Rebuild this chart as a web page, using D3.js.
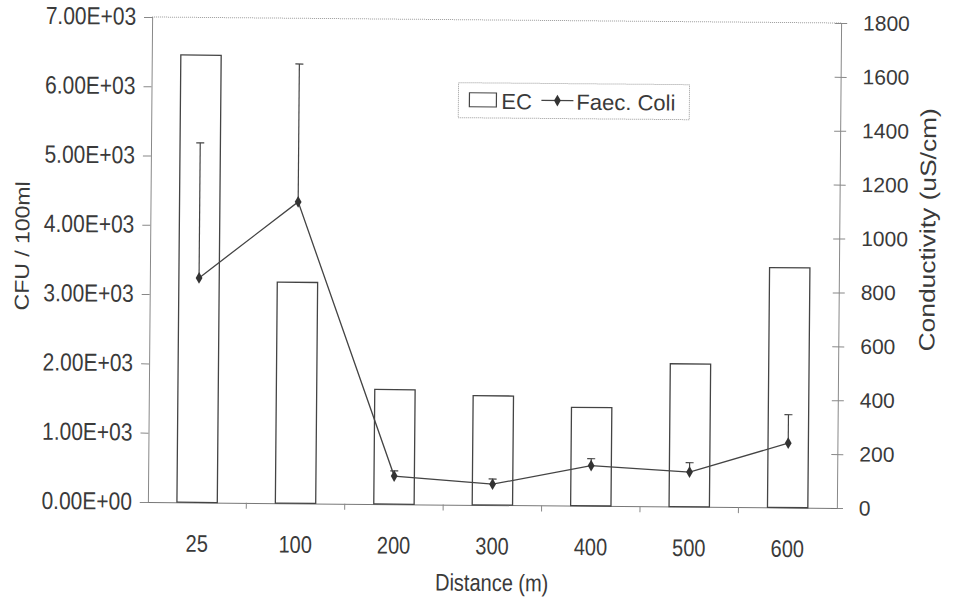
<!DOCTYPE html>
<html>
<head>
<meta charset="utf-8">
<script src="https://d3js.org/d3.v7.min.js"></script>
<style>
  body { margin: 0; background: #fff; }
  text { font-family: "Liberation Sans", Arial, sans-serif; fill: #3a3a3a; }
</style>
</head>
<body>
<div id="chart"></div>
<script>
// data
var categories = ["25", "100", "200", "300", "400", "500", "600"];
var ecValues = [1660, 820, 425, 405, 365, 530, 890];          // conductivity, right axis (bars)
var faecColi = [3240, 4350, 405, 300, 580, 500, 930];         // CFU/100ml, left axis (line)
var faecColiErr = [1950, 1990, 75, 75, 100, 135, 410];        // plus error bars
var leftTicks = [0, 1000, 2000, 3000, 4000, 5000, 6000, 7000];
var rightTicks = [0, 200, 400, 600, 800, 1000, 1200, 1400, 1600, 1800];

var W = 954, H = 605;
var margin = {top: 20, right: 115, bottom: 100, left: 150},
    width = W - margin.left - margin.right,
    height = H - margin.top - margin.bottom;

var svg = d3.select("#chart").append("svg")
    .attr("width", W)
    .attr("height", H);

// the scan is tilted by about half a degree
var root = svg.append("g")
    .attr("transform", "rotate(0.5, 496, 262)");

var g = root.append("g")
    .attr("transform", "translate(" + margin.left + "," + margin.top + ")");

var x = d3.scaleBand()
    .domain(categories)
    .range([0, width])
    .paddingInner(0.59)
    .paddingOuter(0.295);

var yLeft = d3.scaleLinear().domain([0, 7000]).range([height, 0]);
var yRight = d3.scaleLinear().domain([0, 1800]).range([height, 0]);

function sci(v) {
    var e = v === 0 ? 0 : Math.floor(Math.log10(v));
    var m = v / Math.pow(10, e);
    return m.toFixed(2) + "E+" + String(e).padStart(2, "0");
}

// dotted top border of plot area
g.append("line")
    .attr("x1", 0).attr("x2", width)
    .attr("y1", 0).attr("y2", 0)
    .attr("stroke", "#999")
    .attr("stroke-dasharray", "1,1");

// left axis
var ax = g.append("g")
    .call(d3.axisLeft(yLeft).tickValues(leftTicks).tickFormat(sci).tickSize(8).tickPadding(8));
ax.selectAll("text").style("font-size", "21px").attr("dy", "0.3em")
    .attr("transform", "scale(1,1.18)");
ax.selectAll("line").attr("stroke", "#888");
ax.select(".domain").attr("stroke", "#888");

// right axis
var ar = g.append("g")
    .attr("transform", "translate(" + width + ",0)")
    .call(d3.axisRight(yRight).tickValues(rightTicks).tickFormat(d3.format("d")).tickSize(6).tickPadding(16));
ar.selectAll("text").style("font-size", "21px");
ar.selectAll(".tick line").attr("x1", -6).attr("stroke", "#888");
ar.select(".domain").attr("stroke", "#888");

// bottom axis
var ab = g.append("g")
    .attr("transform", "translate(0," + height + ")")
    .call(d3.axisBottom(x).tickSize(0).tickPadding(27));
ab.selectAll("text").style("font-size", "20px")
    .attr("transform", "scale(1,1.2)");
ab.select(".domain").attr("stroke", "#777");

// small ticks between categories
var bounds = d3.range(categories.length + 1).map(function(i) { return i * x.step(); });
ab.selectAll(".sep")
    .data(bounds.slice(1, -1))
    .enter().append("line")
    .attr("class", "sep")
    .attr("x1", function(d) { return d; })
    .attr("x2", function(d) { return d; })
    .attr("y1", 0).attr("y2", 6)
    .attr("stroke", "#888");

// bars (EC)
g.append("g")
    .selectAll("rect")
    .data(ecValues)
    .enter().append("rect")
    .attr("x", function(d, i) { return x(categories[i]); })
    .attr("y", function(d) { return yRight(d); })
    .attr("width", x.bandwidth())
    .attr("height", function(d) { return height - yRight(d); })
    .attr("fill", "#fff")
    .attr("stroke", "#444")
    .attr("stroke-width", 1.3);

var cx = function(i) { return x(categories[i]) + x.bandwidth() / 2; };

// error bars (plus only)
var eb = g.append("g").selectAll("g")
    .data(faecColi)
    .enter().append("g");
eb.append("line")
    .attr("x1", function(d, i) { return cx(i); })
    .attr("x2", function(d, i) { return cx(i); })
    .attr("y1", function(d) { return yLeft(d); })
    .attr("y2", function(d, i) { return yLeft(d + faecColiErr[i]); })
    .attr("stroke", "#444")
    .attr("stroke-width", 1.2);
eb.append("line")
    .attr("x1", function(d, i) { return cx(i) - 4; })
    .attr("x2", function(d, i) { return cx(i) + 4; })
    .attr("y1", function(d, i) { return yLeft(d + faecColiErr[i]); })
    .attr("y2", function(d, i) { return yLeft(d + faecColiErr[i]); })
    .attr("stroke", "#444")
    .attr("stroke-width", 1.2);

// Faec. Coli line
var line = d3.line()
    .x(function(d, i) { return cx(i); })
    .y(function(d) { return yLeft(d); });
g.append("path")
    .datum(faecColi)
    .attr("d", line)
    .attr("fill", "none")
    .attr("stroke", "#444")
    .attr("stroke-width", 1.3);

var diamond = d3.symbol().type(d3.symbolDiamond).size(40);
g.append("g")
    .selectAll("path")
    .data(faecColi)
    .enter().append("path")
    .attr("d", diamond)
    .attr("transform", function(d, i) { return "translate(" + cx(i) + "," + yLeft(d) + ")"; })
    .attr("fill", "#333");

// axis titles
root.append("text")
    .attr("transform", "translate(" + (margin.left + width / 2) + ",591) scale(1,1.2)")
    .attr("text-anchor", "middle")
    .style("font-size", "20px")
    .text("Distance (m)");

root.append("text")
    .attr("transform", "translate(29,250) rotate(-90) scale(1.15,1)")
    .attr("text-anchor", "middle")
    .style("font-size", "20px")
    .text("CFU / 100ml");

root.append("text")
    .attr("transform", "translate(935,226) rotate(-90) scale(1.2,1)")
    .attr("text-anchor", "middle")
    .style("font-size", "22px")
    .text("Conductivity (uS/cm)");

// legend
var lg = root.append("g");
lg.append("rect")
    .attr("x", 457).attr("y", 83)
    .attr("width", 231).attr("height", 35)
    .attr("fill", "#fff")
    .attr("stroke", "#999")
    .attr("stroke-dasharray", "1,1");
lg.append("rect")
    .attr("x", 468).attr("y", 93)
    .attr("width", 27).attr("height", 14)
    .attr("fill", "#fff")
    .attr("stroke", "#444")
    .attr("stroke-width", 1.2);
lg.append("text")
    .attr("x", 500).attr("y", 109)
    .style("font-size", "22px")
    .text("EC");
lg.append("line")
    .attr("x1", 540).attr("x2", 572)
    .attr("y1", 100).attr("y2", 100)
    .attr("stroke", "#444")
    .attr("stroke-width", 1.3);
lg.append("path")
    .attr("d", diamond)
    .attr("transform", "translate(556,100)")
    .attr("fill", "#333");
lg.append("text")
    .attr("x", 575).attr("y", 109)
    .style("font-size", "22px")
    .text("Faec. Coli");
</script>
</body>
</html>
